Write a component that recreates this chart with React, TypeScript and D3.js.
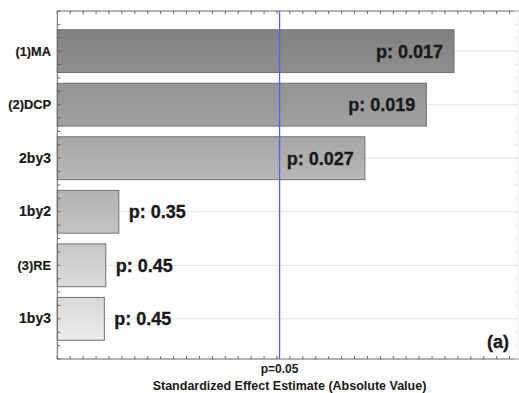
import React from "react";
import * as d3 from "d3";

const categories = ["(1)MA", "(2)DCP", "2by3", "1by2", "(3)RE", "1by3"];
const effects = [3.07, 2.856, 2.38, 0.476, 0.375, 0.364];
const pLabels = ["p: 0.017", "p: 0.019", "p: 0.027", "p: 0.35", "p: 0.45", "p: 0.45"];
const barColors = ["#878787", "#999999", "#adadad", "#bababa", "#d0d0d0", "#e0e0e0"];
const critValue = 1.72;
const critLabel = "p=0.05";
const xTitle = "Standardized Effect Estimate (Absolute Value)";
const panelLabel = "(a)";

const W = 519;
const H = 393;
const left = 57.3;
const right = 518;
const top = 11;
const bottom = 359;
const FONT = "'Liberation Sans', Arial, sans-serif";
const TXT = "#1a1a1a";

export default function App() {
  const x = d3.scaleLinear().domain([0, 3.565]).range([left, right]);
  const y = d3.scalePoint<string>().domain(categories).range([top, bottom]).padding(0.75);
  const step = y.step();
  const barH = step * 0.8;
  const xTicks = d3.range(0, 3.565, 0.1);
  const yTicks = d3.range(top, bottom + 0.01, step / 4);

  return (
    <svg width={W} height={H} style={{ position: "absolute", left: 0, top: 0, background: "#fff" }} fontFamily={FONT}>
      <defs>
        {barColors.map((c, i) => {
          const c0 = d3.color(c)!.darker(0.12).formatHex();
          const c1 = d3.color(c)!.brighter(0.15).formatHex();
          return (
            <linearGradient key={i} id={`g${i}`} x1="0" y1="0" x2="0" y2="1">
              <stop offset="0%" stopColor={c0} />
              <stop offset="100%" stopColor={c1} />
            </linearGradient>
          );
        })}
      </defs>
      {categories.map((c) => (
        <line key={c} x1={left} x2={right} y1={y(c)} y2={y(c)} stroke="#e2e2e2" strokeWidth={1} />
      ))}
      {categories.map((c, i) => (
        <rect
          key={c}
          x={x(0)}
          y={(y(c) as number) - barH / 2}
          width={x(effects[i]) - x(0)}
          height={barH}
          fill={`url(#g${i})`}
          stroke="#707070"
          strokeWidth={1}
        />
      ))}
      {categories.map((c, i) => {
        const inside = effects[i] > critValue;
        return (
          <text
            key={c}
            x={inside ? x(effects[i]) - 11 : x(effects[i]) + 10}
            y={(y(c) as number) + 6.5}
            textAnchor={inside ? "end" : "start"}
            fontSize={18}
            fontWeight="bold"
            fill={TXT}
            stroke={TXT}
            strokeWidth={0.35}
          >
            {pLabels[i]}
          </text>
        );
      })}
      <line x1={x(critValue)} x2={x(critValue)} y1={top} y2={bottom} stroke="#5c5cf0" strokeWidth={1.3} />
      <line x1={left} x2={W} y1={top} y2={top} stroke="#666" strokeWidth={1} />
      <line x1={left} x2={W} y1={bottom} y2={bottom} stroke="#666" strokeWidth={1} />
      <line x1={left} x2={left} y1={top} y2={bottom} stroke="#666" strokeWidth={1} />
      <line x1={right} x2={right} y1={top} y2={bottom} stroke="#ececec" strokeWidth={1} />
      {xTicks.map((t, i) => (
        <g key={i}>
          <line x1={x(t)} x2={x(t)} y1={top} y2={top + 3} stroke="#666" />
          <line x1={x(t)} x2={x(t)} y1={bottom} y2={bottom - 3} stroke="#666" />
        </g>
      ))}
      {yTicks.map((t, i) => (
        <g key={i}>
          <line x1={left} x2={left + 3} y1={t} y2={t} stroke="#666" />
          <line x1={right} x2={right - 3} y1={t} y2={t} stroke="#e4e4e4" />
        </g>
      ))}
      {categories.map((c) => (
        <text
          key={c}
          x={51}
          y={(y(c) as number) + 4.6}
          textAnchor="end"
          fontSize={c.includes("by") ? 14 : 12.8}
          fontWeight="bold"
          fill={TXT}
          stroke={TXT}
          strokeWidth={0.2}
        >
          {c}
        </text>
      ))}
      <text x={x(critValue)} y={373} textAnchor="middle" fontSize={12} fontWeight="bold" fill={TXT}>
        {critLabel}
      </text>
      <text x={289.5} y={389.5} textAnchor="middle" fontSize={12.5} fontWeight="bold" fill={TXT}>
        {xTitle}
      </text>
      <text x={509} y={348} textAnchor="end" fontSize={18} fontWeight="bold" fill={TXT} stroke={TXT} strokeWidth={0.35}>
        {panelLabel}
      </text>
    </svg>
  );
}
